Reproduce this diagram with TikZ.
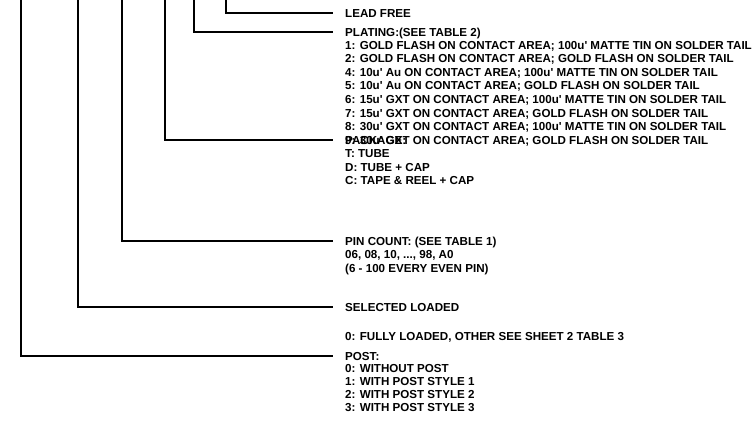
\documentclass[tikz,border=0pt]{standalone}
\usepackage{fontspec}
\newfontfamily\cadfont{Liberation Sans}

\begin{document}
\begin{tikzpicture}[
    x=1pt, y=-1pt,
    leader/.style={line width=1.3pt, shorten >=12pt}, % leader line from the part number
    txt/.style={anchor=west, inner sep=0pt, text height=8pt, text depth=0pt,
        font=\cadfont\bfseries\fontsize{11.6}{13}\selectfont}
]
\useasboundingbox (0,0) rectangle (755,421);

% Top ends of the leaders
\coordinate (lftop)  at (226,0);
\coordinate (pltop)  at (194,0);
\coordinate (pktop)  at (165,0);
\coordinate (pctop)  at (122,0);
\coordinate (sltop)  at (78,0);
\coordinate (potop)  at (21,0);

% Headings
\node[txt] (leadfree) at (345,13)  {LEAD FREE};
\node[txt] (plating)  at (345,32)  {PLATING:(SEE TABLE 2)};
\node[txt] (package)  at (345,140) {PACKAGE:};
\node[txt] (pincount) at (345,241) {PIN COUNT: (SEE TABLE 1)};
\node[txt] (selected) at (345,307) {SELECTED LOADED};
\node[txt] (post)     at (345,356) {POST:};

% Leaders
\draw[leader] (lftop) |- (leadfree.west);
\draw[leader] (pltop) |- (plating.west);
\draw[leader] (pktop) |- (package.west);
\draw[leader] (pctop) |- (pincount.west);
\draw[leader] (sltop) |- (selected.west);
\draw[leader] (potop) |- (post.west);

% Plating codes
\foreach \t [count=\i] in {
    {1: GOLD FLASH ON CONTACT AREA; 100u' MATTE TIN ON SOLDER TAIL},
    {2: GOLD FLASH ON CONTACT AREA; GOLD FLASH ON SOLDER TAIL},
    {4: 10u' Au ON CONTACT AREA; 100u' MATTE TIN ON SOLDER TAIL},
    {5: 10u' Au ON CONTACT AREA; GOLD FLASH ON SOLDER TAIL},
    {6: 15u' GXT ON CONTACT AREA; 100u' MATTE TIN ON SOLDER TAIL},
    {7: 15u' GXT ON CONTACT AREA; GOLD FLASH ON SOLDER TAIL},
    {8: 30u' GXT ON CONTACT AREA; 100u' MATTE TIN ON SOLDER TAIL},
    {9: 30u' GXT ON CONTACT AREA; GOLD FLASH ON SOLDER TAIL}}
    \node[txt] (plate\i) at (345,{45+(\i-1)*13.6}) {\t};

% Package codes
\foreach \t [count=\i] in {{T: TUBE}, {D: TUBE + CAP}, {C: TAPE \& REEL + CAP}}
    \node[txt] (pack\i) at (345,{140+\i*13.6}) {\t};

% Pin count
\node[txt] (pins1) at (345,254) {06, 08, 10, ..., 98, A0};
\node[txt] (pins2) at (345,268) {(6 - 100 EVERY EVEN PIN)};

% Loading
\node[txt] (load1) at (345,336) {0: FULLY LOADED, OTHER SEE SHEET 2 TABLE 3};

% Post codes
\foreach \t [count=\i] in {{0: WITHOUT POST}, {1: WITH POST STYLE 1},
    {2: WITH POST STYLE 2}, {3: WITH POST STYLE 3}}
    \node[txt] (post\i) at (345,{356+\i*12.8}) {\t};

\end{tikzpicture}
\end{document}
